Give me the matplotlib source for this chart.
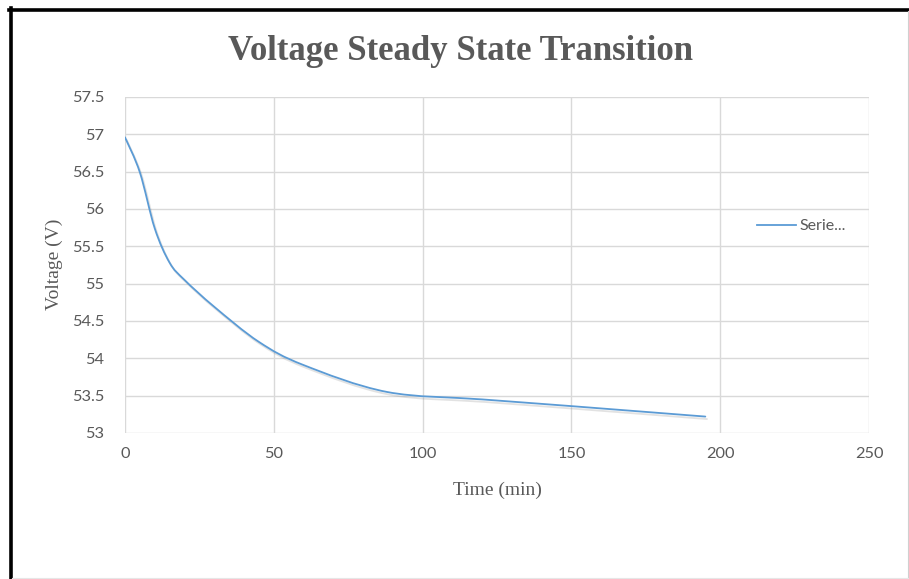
import matplotlib
matplotlib.use("Agg")
import matplotlib.pyplot as plt
import matplotlib.patheffects as pe
from matplotlib.path import Path
from matplotlib.patches import PathPatch
from matplotlib.lines import Line2D
import numpy as np

# Measured battery voltage while settling to steady state
time_min = [0, 5, 10, 15, 20, 30, 45, 60, 88, 120, 150, 195]
voltage_v = [56.96, 56.49, 55.74, 55.28, 55.05, 54.69, 54.22, 53.91, 53.55, 53.45, 53.36, 53.22]
series_label = "Serie..."

x_ticks = [0, 50, 100, 150, 200, 250]
y_ticks = [53, 53.5, 54, 54.5, 55, 55.5, 56, 56.5, 57, 57.5]
y_tick_labels = ["53", "53.5", "54", "54.5", "55", "55.5", "56", "56.5", "57", "57.5"]

title_text = "Voltage Steady State Transition"
x_label = "Time (min)"
y_label = "Voltage (V)"

W, H = 909, 579
fig = plt.figure(figsize=(W / 100, H / 100), dpi=100)
fig.patch.set_facecolor("white")

ax = fig.add_axes([125 / W, 1 - 433 / H, (869 - 125) / W, (433 - 97) / H])
ax.set_xlim(0, 250)
ax.set_ylim(53, 57.5)

grid_c = "#d9d9d9"
text_c = "#595959"
line_c = "#5b9bd5"
tick_font = ["Lato", "DejaVu Sans"]
serif_font = ["Liberation Serif", "DejaVu Serif"]

for s in ax.spines.values():
    s.set_visible(False)
ax.set_xticks(x_ticks)
ax.set_yticks(y_ticks)
ax.set_yticklabels(y_tick_labels)
ax.grid(True, color=grid_c, linewidth=1.0)
ax.set_axisbelow(True)
ax.tick_params(length=0, labelsize=11.8, colors=text_c)
ax.tick_params(axis="y", pad=15)
ax.tick_params(axis="x", pad=10)
for lab in ax.get_xticklabels() + ax.get_yticklabels():
    lab.set_family(tick_font)

# Smoothed line: Catmull-Rom style cubic Bezier through the data points
pts = np.column_stack([time_min, voltage_v])
ext = np.vstack([pts[0], pts, pts[-1]])
verts = [tuple(pts[0])]
codes = [Path.MOVETO]
for i in range(len(pts) - 1):
    p0, p1, p2, p3 = ext[i], ext[i + 1], ext[i + 2], ext[i + 3]
    c1 = p1 + (p2 - p0) / 6.0
    c2 = p2 - (p3 - p1) / 6.0
    verts += [tuple(c1), tuple(c2), tuple(p2)]
    codes += [Path.CURVE4] * 3
curve = PathPatch(Path(verts, codes), fill=False, edgecolor=line_c,
                  linewidth=1.3, capstyle="round", joinstyle="round", zorder=3)
curve.set_path_effects([
    pe.SimpleLineShadow(offset=(1.2, -1.8), shadow_color="#7f7f7f", alpha=0.22),
    pe.Normal(),
])
ax.add_patch(curve)

handle = Line2D([], [], color=line_c, linewidth=1.3)
fig.legend([handle], [series_label], loc="center left",
           bbox_to_anchor=(757 / W, 1 - 226 / H), frameon=False,
           borderpad=0, borderaxespad=0, handlelength=2.45, handletextpad=0.2,
           prop={"family": tick_font, "size": 11.5}, labelcolor=text_c)

fig.text(461 / W, 1 - 52 / H, title_text, ha="center", va="center",
         fontsize=25, fontweight="bold", color=text_c, family=serif_font)
fig.text(497 / W, 1 - 490 / H, x_label, ha="center", va="center",
         fontsize=14, color=text_c, family=serif_font)
fig.text(54 / W, 1 - 264 / H, y_label, ha="center", va="center", rotation=90,
         fontsize=14, color=text_c, family=serif_font)

# Chart frame: heavy left/top edges, faint right/bottom edges
fig.add_artist(Line2D([10.5 / W, 10.5 / W], [0, 1 - 8 / H], color="black",
                      linewidth=2.6, transform=fig.transFigure))
fig.add_artist(Line2D([9 / W, 1], [1 - 9.5 / H, 1 - 9.5 / H], color="black",
                      linewidth=2.6, transform=fig.transFigure))
fig.add_artist(Line2D([907.5 / W, 907.5 / W], [0, 1 - 11 / H], color="#d0d0d0",
                      linewidth=0.8, transform=fig.transFigure))
fig.add_artist(Line2D([12 / W, 1], [1.0 / H, 1.0 / H], color="#e6e6e6",
                      linewidth=0.8, transform=fig.transFigure))

fig.savefig("out.png", dpi=100, facecolor="white")
